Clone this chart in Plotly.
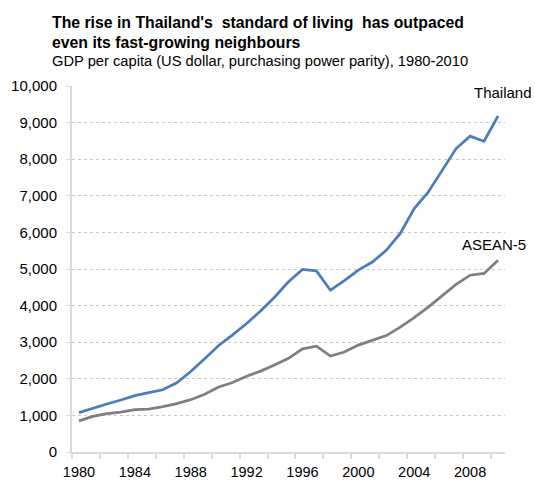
import plotly.graph_objects as go

years = list(range(1980, 2011))
thailand = [1075, 1200, 1310, 1420, 1540, 1620, 1700, 1890, 2200, 2550, 2910,
            3200, 3510, 3850, 4230, 4650, 4990, 4950, 4420, 4680, 4970,
            5190, 5510, 5970, 6650, 7100, 7700, 8290, 8630, 8490, 9180]
asean5 = [850, 975, 1050, 1090, 1160, 1170, 1240, 1320, 1430, 1580, 1776,
          1900, 2070, 2210, 2380, 2560, 2820, 2890, 2620, 2730, 2920,
          3040, 3180, 3410, 3670, 3960, 4280, 4580, 4830, 4880, 5240]
x_tick_labels = [1980, 1984, 1988, 1992, 1996, 2000, 2004, 2008]
y_ticks = list(range(0, 10001, 1000))

FONT = "Liberation Sans, Arial, sans-serif"

fig = go.Figure()
fig.add_trace(go.Scatter(x=years, y=asean5, mode="lines", name="ASEAN-5",
                         line=dict(color="#7f7f7f", width=2.75)))
fig.add_trace(go.Scatter(x=years, y=thailand, mode="lines", name="Thailand",
                         line=dict(color="#4a7ebb", width=2.75)))

fig.add_annotation(x=years[-1], y=thailand[-1], text="Thailand", showarrow=False,
                   xanchor="right", yanchor="bottom", xshift=36, yshift=13,
                   font=dict(size=15, color="#000"))
fig.add_annotation(x=years[-1], y=asean5[-1], text="ASEAN-5", showarrow=False,
                   xanchor="right", yanchor="bottom", xshift=30, yshift=5,
                   font=dict(size=15, color="#000"))

# Titles
plot_h = 483 - 86 - 31
def py(pix):
    return (452 - pix) / plot_h
def px(pix):
    return (pix - 72) / (505 - 72)

fig.add_annotation(xref="paper", yref="paper", x=px(50), y=py(23), xanchor="left", yanchor="middle",
                   text="<b>The rise in Thailand's  standard of living  has outpaced</b>", showarrow=False,
                   font=dict(size=15.8, color="#000"))
fig.add_annotation(xref="paper", yref="paper", x=px(50), y=py(42), xanchor="left", yanchor="middle",
                   text="<b>even its fast-growing neighbours</b>", showarrow=False,
                   font=dict(size=15.8, color="#000"))
fig.add_annotation(xref="paper", yref="paper", x=px(50), y=py(61), xanchor="left", yanchor="middle",
                   text="GDP per capita (US dollar, purchasing power parity), 1980-2010", showarrow=False,
                   font=dict(size=14.7, color="#000"))

fig.update_xaxes(range=[1979.5, 2010.5], tickvals=x_tick_labels, ticktext=[str(v) for v in x_tick_labels],
                 ticks="", showgrid=False, showline=True, linecolor="#d9d9d9", linewidth=2,
                 tickfont=dict(size=14.5, color="#000"), zeroline=False, ticklabelstandoff=6,
                 automargin=False,
                 minor=dict(tickvals=[1979.5 + 2 * i for i in range(16)], ticks="outside",
                            ticklen=5, tickcolor="#d9d9d9", tickwidth=1.5, showgrid=False))
fig.update_yaxes(range=[0, 10000], tickvals=y_ticks, tickformat=",d", ticks="outside", ticklen=4,
                 tickcolor="#d9d9d9", showline=True, linecolor="#d9d9d9", linewidth=2,
                 showgrid=True, gridcolor="#c8c8c8", griddash="dot", gridwidth=1,
                 tickfont=dict(size=15, color="#000"), zeroline=False, ticklabelstandoff=6,
                 automargin=False)

fig.update_layout(width=535, height=483, margin=dict(l=72, r=30, t=86, b=31),
                  plot_bgcolor="white", paper_bgcolor="white", showlegend=False,
                  font=dict(family=FONT, color="#000"))
fig.write_html("out.html")
